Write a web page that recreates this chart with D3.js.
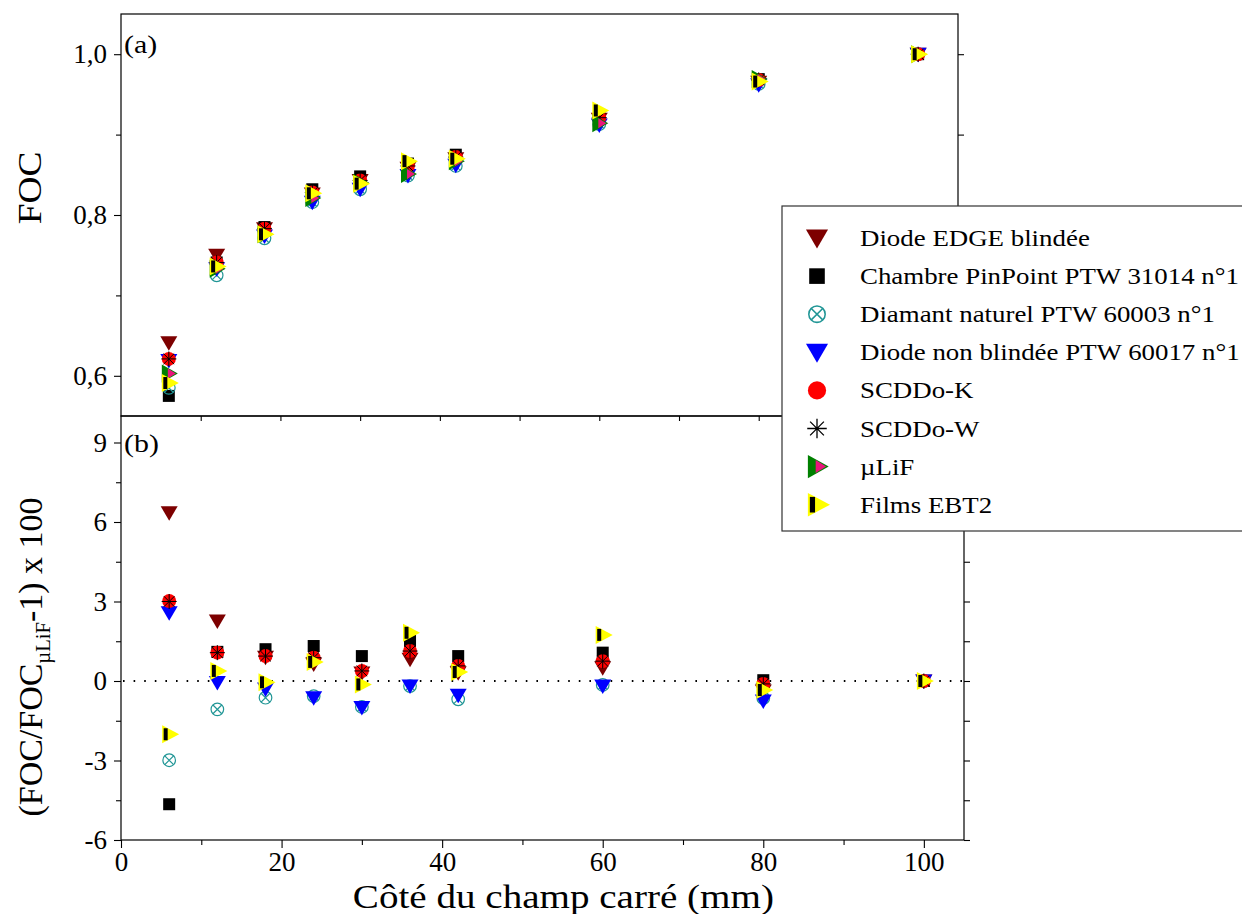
<!DOCTYPE html>
<html><head><meta charset="utf-8">
<script src="https://cdn.jsdelivr.net/npm/d3@7"></script>
<style>body{margin:0;background:#fff}svg{display:block}text{font-family:"Liberation Serif","Times New Roman",serif;fill:#000}</style>
</head><body>
<svg id="c" width="1242" height="914"></svg>
<script>
// ---------- data ----------
const fieldSizes = [6, 12, 18, 24, 30, 36, 42, 60, 80, 100];
const seriesNames = ["Diode EDGE blindée","Chambre PinPoint PTW 31014 n°1","Diamant naturel PTW 60003 n°1","Diode non blindée PTW 60017 n°1","SCDDo-K","SCDDo-W","µLiF","Films EBT2"];
// FOC (panel a)
const focEdge    = [0.641, 0.750, 0.783, 0.826, 0.843, 0.858, 0.870, 0.919, 0.965, 1.000];
const focPinPoint= [0.575, 0.741, 0.785, 0.832, 0.848, 0.864, 0.875, 0.924, 0.969, 1.000];
const focDiamant = [0.585, 0.725, 0.771, 0.816, 0.832, 0.849, 0.861, 0.913, 0.963, 1.000];
const focNonBlind= [0.619, 0.733, 0.774, 0.816, 0.832, 0.849, 0.862, 0.912, 0.962, 1.000];
const focK       = [0.621, 0.741, 0.783, 0.828, 0.843, 0.861, 0.872, 0.921, 0.968, 1.000];
const focW       = [0.621, 0.741, 0.783, 0.828, 0.843, 0.861, 0.872, 0.921, 0.968, 1.000];
const focLiF     = [0.603, 0.733, 0.776, 0.821, 0.840, 0.851, 0.867, 0.914, 0.969, 1.000];
const focEBT2    = [0.591, 0.736, 0.776, 0.827, 0.839, 0.867, 0.870, 0.930, 0.966, 1.000];
// deviation to µLiF in % (panel b)
const devEdge    = [6.35, 2.26, 0.90, 0.64, 0.30, 0.82, 0.31, 0.50, -0.38, 0];
const devPinPoint= [-4.65, 1.10, 1.20, 1.32, 0.94, 1.51, 0.94, 1.07, 0.03, 0];
const devDiamant = [-2.99, -1.07, -0.63, -0.57, -0.98, -0.19, -0.69, -0.15, -0.65, 0];
const devNonBlind= [2.58, -0.06, -0.30, -0.63, -1.00, -0.19, -0.54, -0.19, -0.75, 0];
const devK       = [3.02, 1.07, 0.94, 0.88, 0.38, 1.13, 0.57, 0.75, -0.11, 0];
const devW       = [3.00, 1.07, 0.94, 0.88, 0.38, 1.13, 0.57, 0.75, -0.11, 0];
const devEBT2    = [-2.01, 0.38, -0.05, 0.72, -0.13, 1.82, 0.34, 1.74, -0.34, 0];
const xTicks = [0, 20, 40, 60, 80, 100];
const focTicks = [0.6, 0.8, 1.0];
const devTicks = [-6, -3, 0, 3, 6, 9];

const symbols = ["triDownRed","square","circX","triDownBlue","circle","star","lif","ebt2"];
const focSeries = [focEdge, focPinPoint, focDiamant, focNonBlind, focK, focW, focLiF, focEBT2];
const devSeries = [devEdge, devPinPoint, devDiamant, devNonBlind, devK, devW, null, devEBT2];

// ---------- layout ----------
const svg = d3.select("#c");
const A = {l:121, r:958, t:14, b:416};
const B = {l:121, r:964, t:416, b:840};
const xA = d3.scaleLinear().domain([0,105]).range([A.l, A.r]);
const yA = d3.scaleLinear().domain([0.55,1.05]).range([A.b, A.t]);
const xB = d3.scaleLinear().domain([0,105]).range([B.l, B.r]);
const yB = d3.scaleLinear().domain([-6,10]).range([B.b, B.t]);

function marker(g, type, x, y, s=1) {
  const m = g.append("g").attr("transform", `translate(${x},${y}) scale(${s})`);
  switch(type){
    case "triDownRed":
      m.append("path").attr("d","M-8.5,-6.5L8.5,-6.5L0,8z").attr("fill","#7d0000"); break;
    case "triDownBlue":
      m.append("path").attr("d","M-8.5,-6.5L8.5,-6.5L0,8z").attr("fill","#0000ff"); break;
    case "square":
      m.append("rect").attr("x",-6).attr("y",-6).attr("width",12).attr("height",12).attr("fill","#000"); break;
    case "circX":
      m.append("circle").attr("r",6.3).attr("fill","none").attr("stroke","#219696").attr("stroke-width",1.2);
      m.append("path").attr("d","M-4.4,-4.4L4.4,4.4M-4.4,4.4L4.4,-4.4").attr("stroke","#219696").attr("stroke-width",1.2); break;
    case "circle":
      m.append("circle").attr("r",7).attr("fill","#ff0000"); break;
    case "star":
      m.append("path").attr("d","M0,-7.5L0,7.5M-7.5,0L7.5,0M-5.3,-5.3L5.3,5.3M-5.3,5.3L5.3,-5.3").attr("stroke","#000").attr("stroke-width",1.0); break;
    case "lif":
      m.append("path").attr("d","M-7,-9L9,0L-7,9z").attr("fill","#008000");
      m.append("path").attr("d","M-1,-5L7,0L-1,5z").attr("fill","#e8167c"); break;
    case "ebt2":
      m.append("path").attr("d","M-7,-9L10,0L-7,9z").attr("fill","#ffff00");
      m.append("rect").attr("x",-5.5).attr("y",-6).attr("width",4).attr("height",12).attr("fill","#000"); break;
  }
}
function label(x, y, txt, size, sx, anchor) {
  return svg.append("text").attr("transform",`translate(${x},${y}) scale(${sx},1)`)
    .attr("text-anchor", anchor||"start").style("font-size", size+"px").text(txt);
}

// ---------- frames ----------
function frame(P){ svg.append("rect").attr("x",P.l).attr("y",P.t).attr("width",P.r-P.l).attr("height",P.b-P.t).attr("fill","none").attr("stroke","#000").attr("stroke-width",1.2); }

// Panel A axes
svg.append("g").attr("transform",`translate(${A.l},0)`)
  .call(d3.axisLeft(yA).tickValues(focTicks).tickSize(7).tickPadding(7).tickFormat(d=>d3.format(".1f")(d).replace(".",",")));
svg.append("g").attr("transform",`translate(${A.l},0)`).call(d3.axisLeft(yA).tickValues([0.7,0.9]).tickSize(5).tickFormat(""));
svg.append("g").attr("transform",`translate(${A.r},0)`).call(d3.axisRight(yA).tickValues([0.6,0.7,0.8,0.9,1.0]).tickSize(6).tickFormat(""));
// Panel B axes
svg.append("g").attr("transform",`translate(${B.l},0)`)
  .call(d3.axisLeft(yB).tickValues(devTicks).tickSize(7).tickPadding(7).tickFormat(d=>d<0?"-"+Math.abs(d):d));
svg.append("g").attr("transform",`translate(${B.l},0)`).call(d3.axisLeft(yB).tickValues([-4.5,-1.5,1.5,4.5,7.5]).tickSize(5).tickFormat(""));
svg.append("g").attr("transform",`translate(${B.r},0)`).call(d3.axisRight(yB).tickValues(d3.range(-6,10,1.5)).tickSize(6).tickFormat(""));
svg.append("g").attr("transform",`translate(0,${B.b})`).call(d3.axisBottom(xB).tickValues(xTicks).tickSize(8).tickPadding(4));
svg.append("g").attr("transform",`translate(0,${B.b})`).call(d3.axisBottom(xB).tickValues([10,30,50,70,90]).tickSize(5).tickFormat(""));
svg.append("g").attr("transform",`translate(0,${B.t})`).call(d3.axisBottom(xA).tickValues(d3.range(10,101,10)).tickSize(5).tickFormat(""));

svg.selectAll(".domain").remove();
svg.selectAll(".tick line").attr("stroke","#000").attr("stroke-width",1.1);
svg.selectAll(".tick text").style("font-family","'Liberation Serif',serif").style("font-size","27px").attr("fill","#000");
frame(A); frame(B);

// zero dotted line
svg.append("line").attr("x1",B.l+2).attr("x2",B.r).attr("y1",yB(0)).attr("y2",yB(0))
  .attr("stroke","#000").attr("stroke-width",2.2).attr("stroke-dasharray","1.6,9");

// markers
const gA = svg.append("g"), gB = svg.append("g");
focSeries.forEach((arr,si)=>{ arr.forEach((v,i)=>marker(gA, symbols[si], xA(fieldSizes[i]), yA(v))); });
devSeries.forEach((arr,si)=>{ if(!arr) return; arr.forEach((v,i)=>marker(gB, symbols[si], xB(fieldSizes[i]), yB(v))); });

// panel labels
label(124, 53, "(a)", 26, 1.15);
label(124, 452, "(b)", 26, 1.15);

// axis titles
label(xB(55.1), 908, "Côté du champ carré (mm)", 34, 1.15, "middle");
svg.append("text").attr("transform","translate(41,188) rotate(-90) scale(1.1,1)").attr("text-anchor","middle").style("font-size","34px").text("FOC");
const ty = svg.append("text").attr("transform","translate(42,657) rotate(-90) scale(1.03,1)").attr("text-anchor","middle").style("font-size","33px");
ty.append("tspan").text("(FOC/FOC");
ty.append("tspan").attr("dy",8).style("font-size","20px").text("µLiF");
ty.append("tspan").attr("dy",-8).text("-1) x 100");

// legend
const L = svg.append("g");
L.append("rect").attr("x",782).attr("y",206).attr("width",480).attr("height",325).attr("fill","#fff").attr("stroke","#333").attr("stroke-width",1.2);
seriesNames.forEach((n,i)=>{
  const y = 238 + i*38.1;
  marker(L, symbols[i], 817, y, 1.3);
  L.append("text").attr("transform",`translate(860,${y+8}) scale(1.12,1)`).style("font-size","24px").text(n);
});
</script>
</body></html>
